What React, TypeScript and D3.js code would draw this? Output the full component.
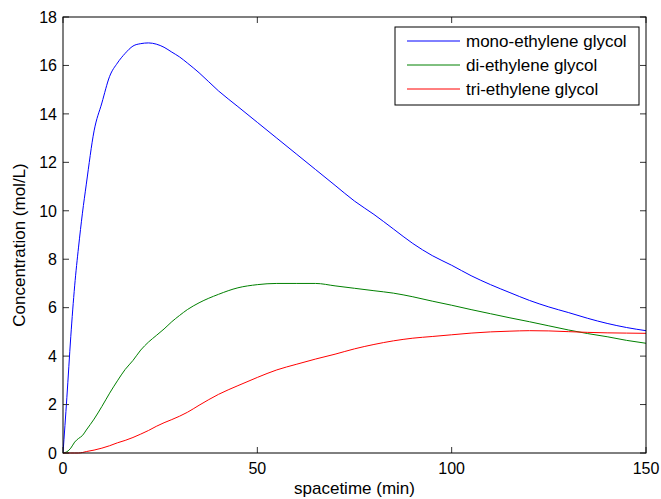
import React from "react";
import * as d3 from "d3";

const times = [0, 1, 2, 3, 4, 5, 6, 8, 10, 12, 14, 16, 18, 20, 22, 24, 26, 28, 30, 32, 35, 40, 45, 50, 55, 60, 65, 70, 75, 80, 85, 90, 95, 100, 105, 110, 115, 120, 125, 130, 135, 140, 145, 150];

const mono = [0, 2.3, 4.8, 6.9, 8.5, 9.9, 11.1, 13.3, 14.45, 15.55, 16.1, 16.5, 16.8, 16.9, 16.93, 16.88, 16.75, 16.55, 16.35, 16.1, 15.7, 14.95, 14.3, 13.65, 13.0, 12.35, 11.7, 11.05, 10.4, 9.85, 9.25, 8.65, 8.15, 7.75, 7.32, 6.95, 6.62, 6.3, 6.03, 5.8, 5.56, 5.35, 5.18, 5.05];

const di = [0, 0.05, 0.2, 0.45, 0.6, 0.72, 0.95, 1.4, 1.92, 2.47, 2.98, 3.45, 3.82, 4.25, 4.58, 4.85, 5.12, 5.42, 5.68, 5.92, 6.2, 6.55, 6.82, 6.95, 7.0, 7.0, 7.0, 6.9, 6.8, 6.7, 6.6, 6.45, 6.27, 6.1, 5.92, 5.75, 5.58, 5.42, 5.25, 5.08, 4.93, 4.8, 4.65, 4.53];

const tri = [0, 0, 0, 0, 0, 0.02, 0.06, 0.12, 0.2, 0.3, 0.42, 0.52, 0.64, 0.78, 0.93, 1.1, 1.25, 1.38, 1.52, 1.68, 1.97, 2.42, 2.78, 3.12, 3.43, 3.66, 3.88, 4.08, 4.3, 4.48, 4.63, 4.74, 4.81, 4.88, 4.95, 5.0, 5.03, 5.05, 5.04, 5.01, 4.98, 4.96, 4.95, 4.94];

const seriesNames = ["mono-ethylene glycol", "di-ethylene glycol", "tri-ethylene glycol"];
const seriesColors = ["#0000ff", "#008000", "#ff0000"];
const seriesValues = [mono, di, tri];

const xTicks = [0, 50, 100, 150];
const yTicks = [0, 2, 4, 6, 8, 10, 12, 14, 16, 18];

const W = 661;
const H = 499;
const left = 63;
const top = 17;
const right = 646;
const bottom = 453;
const font = "'Liberation Sans', Arial, sans-serif";

export default function App() {
  const x = d3.scaleLinear().domain([0, 150]).range([left, right]);
  const y = d3.scaleLinear().domain([0, 18]).range([bottom, top]);
  const line = d3
    .line<[number, number]>()
    .x((d) => x(d[0]))
    .y((d) => y(d[1]))
    .curve(d3.curveMonotoneX);

  const tickLen = 6;
  const legend = { x0: 395, y0: 27, x1: 639, y1: 105 };

  return (
    <svg
      width={W}
      height={H}
      style={{ position: "absolute", left: 0, top: 0, background: "#fff" }}
      fontFamily={font}
    >
      <rect x={0} y={0} width={W} height={H} fill="#fff" />
      <defs>
        <clipPath id="plotclip">
          <rect x={left} y={top - 1} width={right - left + 1} height={bottom - top + 2} />
        </clipPath>
      </defs>
      <g clipPath="url(#plotclip)">
        {seriesValues.map((vals, i) => (
          <path
            key={i}
            d={line(times.map((t, j) => [t, vals[j]] as [number, number])) || ""}
            fill="none"
            stroke={seriesColors[i]}
            strokeWidth={1}
          />
        ))}
      </g>
      {xTicks.map((t) => (
        <g key={"xt" + t}>
          <line x1={x(t)} x2={x(t)} y1={bottom} y2={bottom - tickLen} stroke="#333" />
          <line x1={x(t)} x2={x(t)} y1={top} y2={top + tickLen} stroke="#333" />
          <text x={x(t)} y={474} textAnchor="middle" fontSize={16} fill="#000">
            {t}
          </text>
        </g>
      ))}
      {yTicks.map((v) => (
        <g key={"yt" + v}>
          <line x1={left} x2={left + tickLen} y1={y(v)} y2={y(v)} stroke="#333" />
          <line x1={right} x2={right - tickLen} y1={y(v)} y2={y(v)} stroke="#333" />
          <text x={57} y={y(v)} dy="0.36em" textAnchor="end" fontSize={16} fill="#000">
            {v}
          </text>
        </g>
      ))}
      <rect
        x={left}
        y={top}
        width={right - left}
        height={bottom - top}
        fill="none"
        stroke="#000"
        strokeWidth={1}
      />
      <text x={(left + right) / 2} y={494} textAnchor="middle" fontSize={17} fill="#000">
        spacetime (min)
      </text>
      <text
        transform={`translate(25,245) rotate(-90)`}
        textAnchor="middle"
        fontSize={17}
        fill="#000"
      >
        Concentration (mol/L)
      </text>
      <rect
        x={legend.x0}
        y={legend.y0}
        width={legend.x1 - legend.x0}
        height={legend.y1 - legend.y0}
        fill="#fff"
        stroke="#000"
        strokeWidth={1}
      />
      {seriesNames.map((name, i) => {
        const ly = 41 + i * 24;
        return (
          <g key={name}>
            <line x1={407} x2={460} y1={ly} y2={ly} stroke={seriesColors[i]} strokeWidth={1} />
            <text x={466} y={ly} dy="0.36em" fontSize={17} fill="#000">
              {name}
            </text>
          </g>
        );
      })}
    </svg>
  );
}
